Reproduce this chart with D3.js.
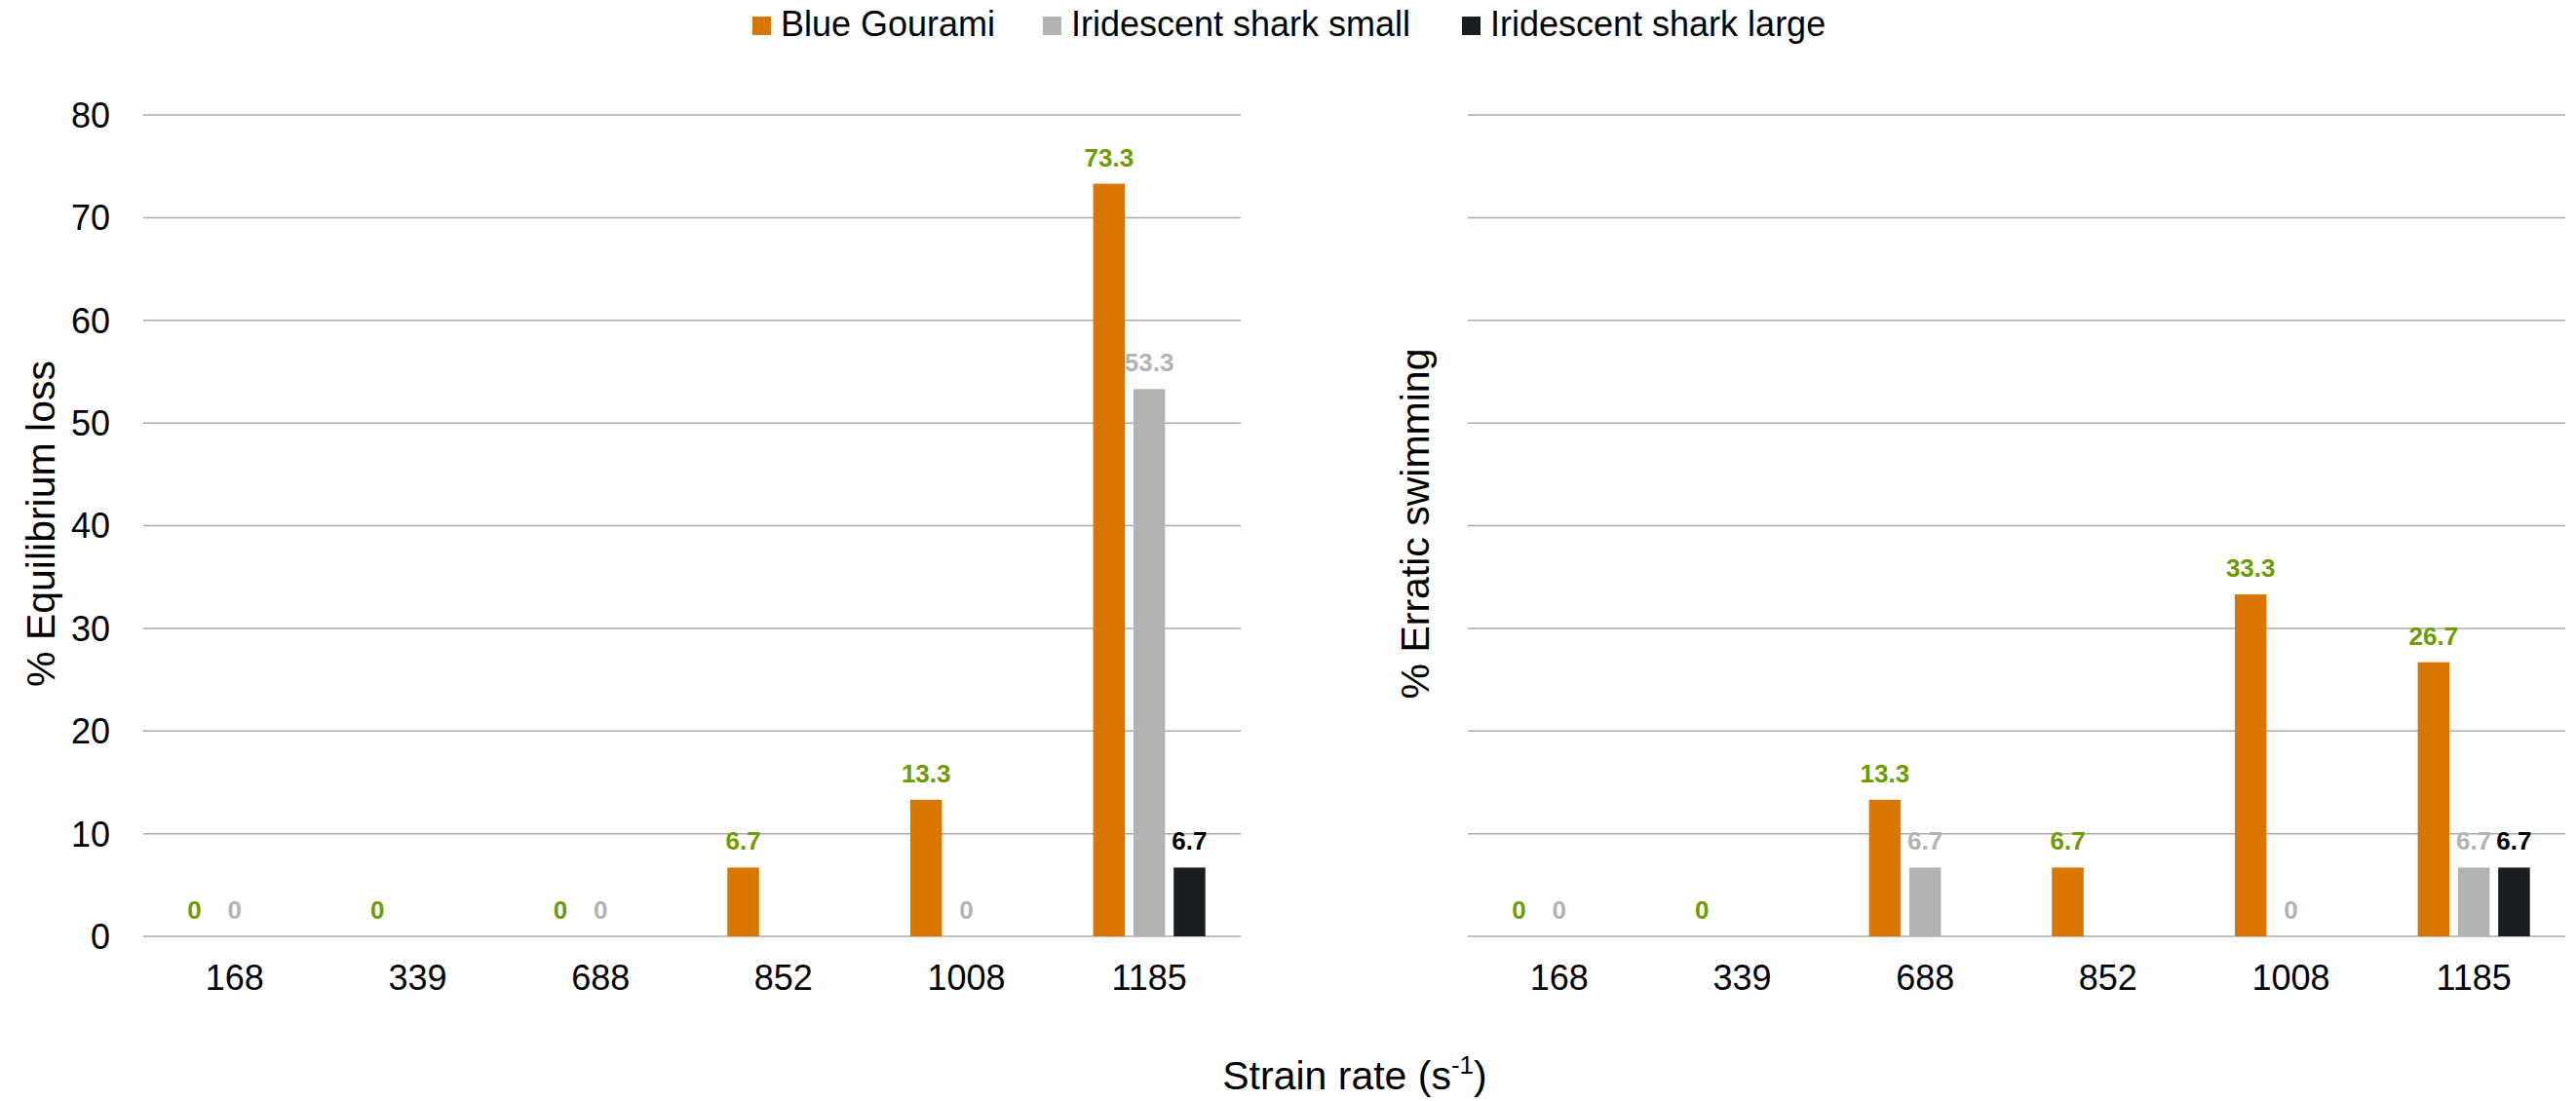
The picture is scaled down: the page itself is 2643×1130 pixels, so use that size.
<!DOCTYPE html>
<html>
<head>
<meta charset="utf-8">
<script src="https://cdn.jsdelivr.net/npm/d3@7"></script>
<style>
  html, body { margin: 0; padding: 0; background: #fff; }
  svg { display: block; font-family: "Liberation Sans", Arial, sans-serif; }
</style>
</head>
<body>
<svg id="chart" width="2643" height="1130"></svg>
<script>
// Strain-rate categories (s^-1)
const categories = ["168", "339", "688", "852", "1008", "1185"];
const seriesNames = ["Blue Gourami", "Iridescent shark small", "Iridescent shark large"];
const yTicks = [0, 10, 20, 30, 40, 50, 60, 70, 80];

// % Equilibrium loss (null = not tested / no label)
const equilibriumGourami = [0, 0, 0, 6.7, 13.3, 73.3];
const equilibriumSmall   = [0, null, 0, null, 0, 53.3];
const equilibriumLarge   = [null, null, null, null, null, 6.7];

// % Erratic swimming
const erraticGourami = [0, 0, 13.3, 6.7, 33.3, 26.7];
const erraticSmall   = [0, null, 6.7, null, 0, 6.7];
const erraticLarge   = [null, null, null, null, null, 6.7];

const barColors   = ["#d97600", "#b3b3b3", "#1b1e20"];
const labelColors = ["#6e9b00", "#b3b3b3", "#000000"];

const svg = d3.select("#chart");
const W = 1126;
const y = d3.scaleLinear().domain([0, 80]).range([961, 118]);

function panel(left, title, titleX, seriesData, showYTicks) {
  const g = svg.append("g").attr("transform", `translate(${left},0)`);
  const x0 = d3.scaleBand().domain(categories).range([0, W])
    .paddingInner(0.387).paddingOuter(0.1935);
  const x1 = d3.scaleBand().domain(d3.range(seriesNames.length))
    .range([0, x0.bandwidth()]).paddingInner(0.213).paddingOuter(0);

  // horizontal gridlines
  g.append("g").selectAll("line").data(yTicks).join("line")
    .attr("x1", 0).attr("x2", W)
    .attr("y1", d => y(d)).attr("y2", d => y(d))
    .attr("stroke", "#ababab").attr("stroke-width", 1.5);

  if (showYTicks) {
    g.append("g").selectAll("text").data(yTicks).join("text")
      .attr("x", -34).attr("y", d => y(d)).attr("dy", "0.36em")
      .attr("text-anchor", "end").attr("font-size", 36).attr("fill", "#000")
      .text(d => d);
  }

  // category labels
  g.append("g").selectAll("text").data(categories).join("text")
    .attr("x", d => x0(d) + x0.bandwidth() / 2).attr("y", 1016)
    .attr("text-anchor", "middle").attr("font-size", 36).attr("fill", "#000")
    .text(d => d);

  const points = [];
  seriesData.forEach((vals, s) => {
    vals.forEach((v, i) => {
      if (v !== null) points.push({ s, cat: categories[i], v });
    });
  });

  g.append("g").selectAll("rect").data(points.filter(p => p.v > 0)).join("rect")
    .attr("x", p => x0(p.cat) + x1(p.s)).attr("width", x1.bandwidth())
    .attr("y", p => y(p.v)).attr("height", p => y(0) - y(p.v))
    .attr("fill", p => barColors[p.s]);

  g.append("g").selectAll("text").data(points).join("text")
    .attr("x", p => x0(p.cat) + x1(p.s) + x1.bandwidth() / 2)
    .attr("y", p => y(p.v) - 18)
    .attr("text-anchor", "middle").attr("font-size", 26).attr("font-weight", "bold")
    .attr("fill", p => labelColors[p.s])
    .text(p => p.v);

  svg.append("text")
    .attr("transform", `translate(${titleX},${y(40) - 2}) rotate(-90)`)
    .attr("text-anchor", "middle").attr("dy", "0.35em")
    .attr("font-size", 41).attr("fill", "#000")
    .text(title);
}

panel(147, "% Equilibrium loss", 42,
  [equilibriumGourami, equilibriumSmall, equilibriumLarge], true);
panel(1506, "% Erratic swimming", 1452,
  [erraticGourami, erraticSmall, erraticLarge], false);

// shared x-axis title
const xt = svg.append("text").attr("x", 1390).attr("y", 1118)
  .attr("text-anchor", "middle").attr("font-size", 41).attr("fill", "#000");
xt.append("tspan").text("Strain rate (s");
xt.append("tspan").attr("font-size", 26).attr("dy", -16).text("-1");
xt.append("tspan").attr("dy", 16).text(")");

// legend
const legendX = [772, 1070, 1500];
const lg = svg.append("g");
seriesNames.forEach((name, i) => {
  lg.append("rect").attr("x", legendX[i]).attr("y", 17)
    .attr("width", 19).attr("height", 19).attr("fill", barColors[i]);
  lg.append("text").attr("x", legendX[i] + 29).attr("y", 37)
    .attr("font-size", 36).attr("fill", "#000").text(name);
});
</script>
</body>
</html>
